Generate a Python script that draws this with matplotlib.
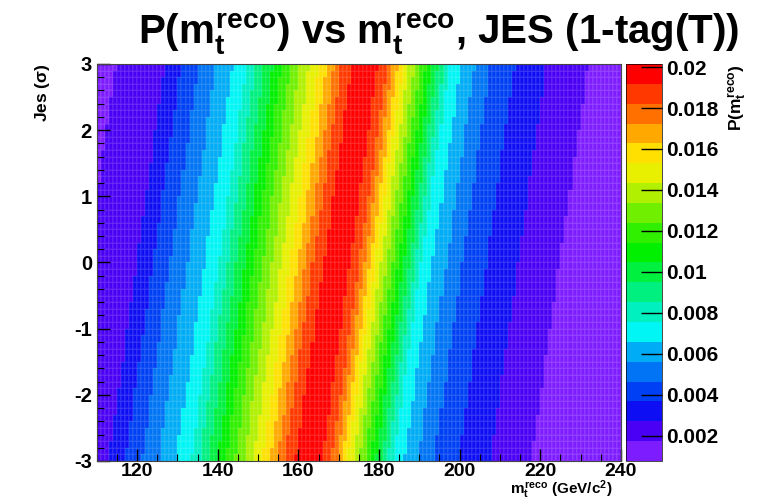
import numpy as np
import matplotlib
matplotlib.use("Agg")
import matplotlib.pyplot as plt
from matplotlib.colors import ListedColormap, BoundaryNorm

# template
# offset from the peak (GeV) and P relative to the peak height
profile_offset = [-85, -70, -60, -50, -44, -30, -20, -10.8, -5, 0, 5, 9.2, 15, 21.5, 30, 40, 50, 55, 70, 85]
profile_value = [0.07, 0.08, 0.088, 0.13, 0.20, 0.36, 0.58, 0.775, 0.93, 1.0, 0.93, 0.775, 0.58, 0.36, 0.24, 0.16, 0.11, 0.087, 0.065, 0.055]
peak_height = 0.0201

# peak position vs JES
jes_points = [-3, 0, 3]
peak_mass = [162.5, 169.5, 176.5]

# histogram binning
m_edges = np.arange(110, 241, 1.0)
jes_edges = np.arange(-3, 3.0001, 0.1)

z_min, z_max = 0.00077, 0.02015
n_levels = 20

palette = ["#7d1cff", "#4a00f5", "#0e0ef5", "#0040f5", "#0074f5", "#00acf5",
           "#00f5f5", "#00f0c0", "#00f080", "#00f040", "#00f000", "#30f000",
           "#70f000", "#b0f000", "#e8f000", "#ffe000", "#ffa800", "#ff7000",
           "#ff3800", "#ff0000"]

plt.rcParams['font.family'] = ['Liberation Sans', 'DejaVu Sans']
plt.rcParams['font.weight'] = 'bold'
plt.rcParams['axes.unicode_minus'] = False
plt.rcParams['mathtext.fontset'] = 'custom'
plt.rcParams['mathtext.rm'] = 'Liberation Sans:bold'
plt.rcParams['mathtext.it'] = 'Liberation Sans:bold'
plt.rcParams['mathtext.bf'] = 'Liberation Sans:bold'

m_c = 0.5 * (m_edges[1:] + m_edges[:-1])
j_c = 0.5 * (jes_edges[1:] + jes_edges[:-1])
M, J = np.meshgrid(m_c, j_c)
mu = np.interp(J, jes_points, peak_mass)
Z = peak_height * np.interp(M - mu, profile_offset, profile_value)

fig = plt.figure(figsize=(7.81, 5.03), dpi=100)
ax = fig.add_axes([0.124, 0.0835, 0.671, 0.7893])
cax = fig.add_axes([0.802, 0.0835, 0.045, 0.7893])

cmap = ListedColormap(palette)
levels = np.linspace(z_min, z_max, n_levels + 1)
norm = BoundaryNorm(levels, cmap.N)

mesh = ax.pcolormesh(m_edges, jes_edges, Z, cmap=cmap, norm=norm, shading='flat',
                     edgecolors=(1, 1, 1, 0.07), linewidth=0.3)
ax.set_xlim(110, 240)
ax.set_ylim(-3, 3)
ax.set_xticks(np.arange(120, 241, 20))
ax.set_xticks(np.arange(110, 241, 5), minor=True)
ax.set_yticks(np.arange(-3, 4, 1))
ax.set_yticks(np.arange(-3, 3.01, 0.2), minor=True)
ax.tick_params(which='both', direction='in', top=False, right=False, labelsize=14.5)
ax.tick_params(which='major', length=9, width=1)
ax.tick_params(which='minor', length=5, width=0.8)
ax.tick_params(axis='x', pad=1.5, labelsize=14)
for s in ax.spines.values():
    s.set_linewidth(0.8)
    s.set_color('#444444')

ax.set_xlabel(r'$m_t^{reco}$ (GeV/c$^2$)', fontsize=11, fontweight='bold', ha='right', va='bottom')
ax.xaxis.set_label_coords(0.985, -0.102)
ax.set_ylabel(r'Jes ($\sigma$)', fontsize=12.5, fontweight='bold', loc='top', labelpad=16)

cb = fig.colorbar(mesh, cax=cax, ticks=np.arange(0.002, 0.0201, 0.002))
cb.ax.set_yticklabels(['0.002', '0.004', '0.006', '0.008', '0.01', '0.012',
                       '0.014', '0.016', '0.018', '0.02'])
cb.ax.tick_params(direction='in', length=15, width=1, labelsize=15, pad=3)
cb.ax.minorticks_off()
cb.outline.set_linewidth(0.5)
cb.ax.set_ylabel(r'P($m_t^{reco}$)', fontsize=12.5, fontweight='bold', loc='top', labelpad=6)

fig.text(0.561, 0.933, r'P($m_t^{reco}$) vs $m_t^{reco}$, JES (1-tag(T))',
         ha='center', va='center', fontsize=29, fontweight='bold')

fig.savefig('out.png', dpi=100)
